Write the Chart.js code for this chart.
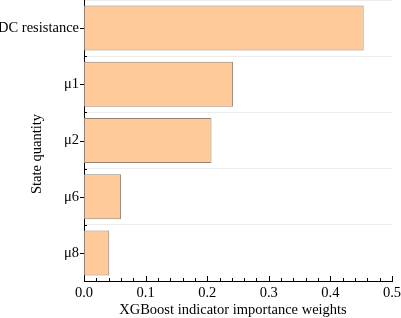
<!DOCTYPE html>
<html lang="en">
<head>
    <meta charset="UTF-8">
    <title>XGBoost indicator importance weights</title>
    <script src="https://cdn.jsdelivr.net/npm/chart.js"></script>
    <style>
        body {
            margin: 0;
            background: #fff;
        }
        .chart-container {
            width: 401px;
            height: 318px;
        }
    </style>
</head>
<body>

    <div class="chart-container">
        <canvas id="barChart" width="401" height="318"></canvas>
    </div>

    <script>
        const categories = ['DC resistance', 'μ1', 'μ2', 'μ6', 'μ8'];
        const weights = [0.454, 0.242, 0.207, 0.060, 0.041];
        const xTicks = [0, 0.1, 0.2, 0.3, 0.4, 0.5];

        const FONT = "'Liberation Serif', 'Times New Roman', serif";
        const FONT_SIZE = 14.5;

        // tick marks like the original: x ticks point inward, y ticks outward at labels
        const tickMarks = {
            id: 'tickMarks',
            afterDraw(chart) {
                const ctx = chart.ctx;
                const x = chart.scales.x;
                const y = chart.scales.y;
                const area = chart.chartArea;
                ctx.save();
                ctx.strokeStyle = '#000';
                ctx.lineWidth = 1;
                ctx.beginPath();
                for (let i = 0; i <= 25; i++) {
                    const px = Math.round(x.getPixelForValue(i * 0.02)) + 0.5;
                    const len = i % 5 === 0 ? 5 : 3;
                    ctx.moveTo(px, area.bottom);
                    ctx.lineTo(px, area.bottom - len);
                }
                const half = (y.getPixelForValue(1) - y.getPixelForValue(0)) / 2;
                categories.forEach((c, i) => {
                    const py = Math.round(y.getPixelForValue(i)) + 0.5;
                    ctx.moveTo(area.left, py);
                    ctx.lineTo(area.left - 4, py);
                    const pb = Math.round(y.getPixelForValue(i) + half) + 0.5;
                    if (i < categories.length - 1) {
                        ctx.moveTo(area.left, pb);
                        ctx.lineTo(area.left + 3, pb);
                    }
                });
                ctx.stroke();

                // axis titles
                ctx.fillStyle = '#000';
                ctx.font = FONT_SIZE + 'px ' + FONT;
                ctx.textAlign = 'center';
                ctx.textBaseline = 'middle';
                ctx.fillText('XGBoost indicator importance weights', 233, 310);
                ctx.translate(37, 154);
                ctx.rotate(-Math.PI / 2);
                ctx.fillText('State quantity', 0, 0);
                ctx.restore();
            }
        };

        const ctx = document.getElementById('barChart').getContext('2d');
        new Chart(ctx, {
            type: 'bar',
            data: {
                labels: categories,
                datasets: [{
                    data: weights,
                    backgroundColor: 'rgb(255, 202, 153)',
                    borderColor: 'rgb(150, 132, 118)',
                    borderWidth: 1,
                    borderSkipped: false,
                    categoryPercentage: 1.0,
                    barPercentage: 0.8
                }]
            },
            options: {
                indexAxis: 'y',
                responsive: false,
                animation: false,
                layout: {
                    padding: { left: 0, right: 9, top: 0, bottom: 0 }
                },
                plugins: {
                    legend: { display: false },
                    tooltip: { enabled: false }
                },
                scales: {
                    x: {
                        type: 'linear',
                        min: 0,
                        max: 0.5,
                        afterBuildTicks(scale) {
                            scale.ticks = xTicks.map(v => ({ value: v }));
                        },
                        afterFit(scale) {
                            scale.height = 37;
                            scale.paddingLeft = 0;
                            scale.paddingRight = 0;
                        },
                        grid: { display: false, drawTicks: false },
                        border: { color: '#000', width: 1 },
                        ticks: {
                            padding: 3,
                            maxRotation: 0,
                            color: '#000',
                            font: { family: FONT, size: FONT_SIZE },
                            callback: v => v.toFixed(1)
                        }
                    },
                    y: {
                        afterFit(scale) {
                            scale.width = 84;
                            scale.paddingTop = 0;
                            scale.paddingBottom = 0;
                        },
                        grid: { color: '#ececec', drawTicks: false, offset: true },
                        border: { color: '#000', width: 1 },
                        ticks: {
                            padding: 5,
                            color: '#000',
                            font: { family: FONT, size: FONT_SIZE }
                        }
                    }
                }
            },
            plugins: [tickMarks]
        });
    </script>

</body>
</html>
